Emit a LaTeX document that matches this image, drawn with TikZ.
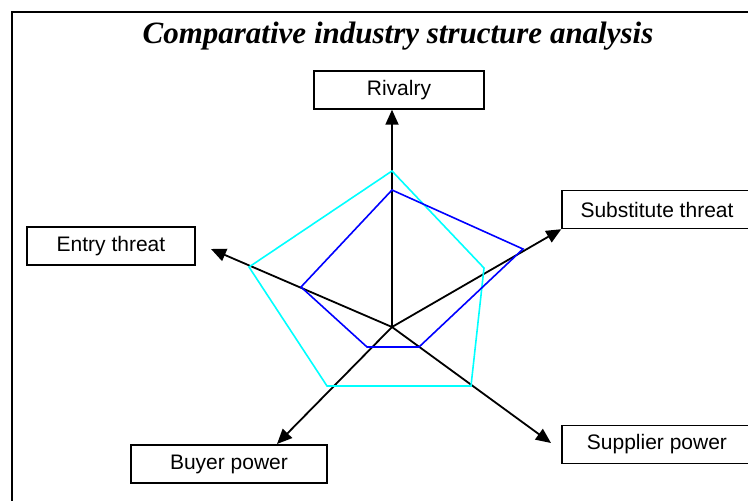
\documentclass[tikz,border=0pt]{standalone}
\usepackage{fontspec}
\setmainfont{Liberation Serif}
\setsansfont{Liberation Sans}
\usetikzlibrary{arrows.meta}
\definecolor{rivalcyan}{RGB}{0,255,255}
\definecolor{firmblue}{RGB}{0,0,255}

\begin{document}
\begin{tikzpicture}[
    x=1pt, y=-1pt,
    axis/.style={line width=1.8pt, -{Triangle[length=15pt, width=13pt]}},
    force/.style={draw, line width=1.4pt, minimum height=38pt, inner sep=0pt, font=\sffamily\fontsize{21}{25}\selectfont},
    rival/.style={rivalcyan, line width=1.6pt},
    firm/.style={firmblue, line width=1.6pt}
]
   \useasboundingbox (0,0) rectangle (748,501);

   % Frame, cut off on the right and at the bottom
   \begin{scope}
      \clip (0,0) rectangle (748,501);
      \draw[line width=1.6pt] (12,520) -- (12,12) -- (770,12);
   \end{scope}

   % Title
   \node[anchor=base, font=\fontsize{31}{37}\selectfont\bfseries\itshape] (title) at (398,43) {Comparative industry structure analysis};

   % Forces
   \node[force, minimum width=170pt] (rivalry) at (399,90) {Rivalry};
   \node[force, minimum width=190pt] (subst) at (657,209.5) {Substitute threat};
   \node[force, minimum width=168pt] (entry) at (111,246) {Entry threat};
   \node[force, minimum width=196pt] (buyer) at (229,464) {Buyer power};
   \node[force, minimum width=190pt] (supplier) at (657,444.5) {Supplier power};

   % Axes
   \coordinate (c) at (392,327);
   \coordinate (eTip) at (211,249);
   \coordinate (bTip) at (277,444);
   \coordinate (sTip) at (551,443);

   \path[axis]
   (c) edge (c |- rivalry.south)
   (c) edge (subst.south west)
   (c) edge (eTip)
   (c) edge (bTip)
   (c) edge (sTip);

   % Profiles
   \draw[rival] (392,171) -- (484,268) -- (471,386) -- (327,386) -- (249,267) -- cycle;
   \draw[firm] (392,190) -- (523,249) -- (419,347) -- (367,347) -- (301,287) -- cycle;
\end{tikzpicture}
\end{document}
